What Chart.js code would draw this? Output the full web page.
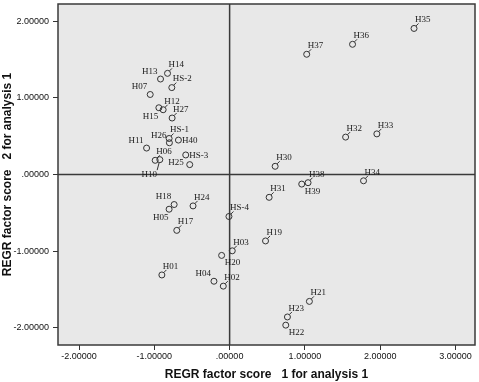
<!DOCTYPE html>
<html>
<head>
<meta charset="utf-8">
<script src="https://cdn.jsdelivr.net/npm/chart.js@4.4.1/dist/chart.umd.min.js"></script>
<style>
  html, body { margin: 0; padding: 0; background: #fff; }
  canvas { display: block; }
</style>
</head>
<body>
<canvas id="chart" width="479" height="382"></canvas>
<script>
// factor scores
const names = ["H01", "H02", "H03", "H04", "H05", "H06", "H07", "H10", "H11", "H12",
  "H13", "H14", "H15", "H17", "H18", "H19", "H20", "H21", "H22", "H23",
  "H24", "H25", "H26", "H27", "H30", "H31", "H32", "H33", "H34", "H35",
  "H36", "H37", "H38", "H39", "H40", "HS-1", "HS-2", "HS-3", "HS-4"];
const score1 = [-0.90, -0.084, 0.035, -0.208, -0.804, -0.989, -1.055, -0.927, -1.103, -0.883,
  -0.918, -0.825, -0.94, -0.702, -0.737, 0.477, -0.106, 1.06, 0.746, 0.768,
  -0.486, -0.53, -0.80, -0.764, 0.605, 0.525, 1.541, 1.956, 1.779, 2.45,
  1.633, 1.024, 1.042, 0.958, -0.68, -0.804, -0.768, -0.583, -0.009];
const score2 = [-1.311, -1.457, -0.996, -1.393, -0.453, 0.185, 1.044, 0.194, 0.345, 0.845,
  1.246, 1.32, 0.871, -0.729, -0.392, -0.867, -1.056, -1.656, -1.966, -1.859,
  -0.41, 0.129, 0.414, 0.737, 0.107, -0.298, 0.488, 0.530, -0.082, 1.906,
  1.699, 1.569, -0.107, -0.125, 0.449, 0.47, 1.134, 0.255, -0.548];
const xTicks = [-2, -1, 0, 1, 2, 3];
const yTicks = [-2, -1, 0, 1, 2];

// where each label sits relative to its marker (default "ne")
const labelSide = {
  H04: "nw", H07: "nw", H11: "nw", H13: "nw", H18: "nw", H26: "nw",
  H05: "sw", H15: "sw",
  H20: "se", H22: "se", H39: "se",
  H40: "e", "HS-3": "e",
  H25: "w",
  H10: "s"
};

const fmt = v => (v === 0 ? ".00000" : v.toFixed(5));

const plotFrame = {
  id: "plotFrame",
  beforeDatasetsDraw(chart) {
    const { ctx, chartArea: a, scales } = chart;
    ctx.save();
    ctx.fillStyle = "#e8e8e8";
    ctx.fillRect(a.left, a.top, a.right - a.left, a.bottom - a.top);
    ctx.strokeStyle = "#3a3a3a";
    ctx.lineWidth = 1.5;
    const x0 = scales.x.getPixelForValue(0);
    const y0 = scales.y.getPixelForValue(0);
    ctx.beginPath();
    ctx.moveTo(x0, a.top); ctx.lineTo(x0, a.bottom);
    ctx.moveTo(a.left, y0); ctx.lineTo(a.right, y0);
    ctx.stroke();
    ctx.strokeRect(a.left, a.top, a.right - a.left, a.bottom - a.top);
    ctx.restore();
  }
};

const pointLabels = {
  id: "pointLabels",
  afterDatasetsDraw(chart) {
    const { ctx } = chart;
    const meta = chart.getDatasetMeta(0);
    ctx.save();
    ctx.font = "9px 'Liberation Serif', serif";
    ctx.fillStyle = "#1a1a1a";
    ctx.strokeStyle = "#333";
    ctx.lineWidth = 1;
    ctx.textBaseline = "middle";
    meta.data.forEach((pt, i) => {
      const cx = pt.x, cy = pt.y;
      const side = labelSide[names[i]] || "ne";
      let tx, ty, align = "left";
      if (side === "ne") {
        tx = cx + 1; ty = cy - 8.5;
        ctx.beginPath();
        ctx.moveTo(cx + 2, cy - 2.5); ctx.lineTo(cx + 4.5, cy - 5);
        ctx.stroke();
      } else if (side === "nw") {
        tx = cx - 3; ty = cy - 7.5; align = "right";
      } else if (side === "sw") {
        tx = cx - 0.5; ty = cy + 8.5; align = "right";
      } else if (side === "se") {
        tx = cx + 3; ty = cy + 7.5;
      } else if (side === "e") {
        tx = cx + 3.5; ty = cy + 0.5;
      } else if (side === "w") {
        tx = cx - 6; ty = cy - 2;
        align = "right";
      } else {
        tx = cx - 10.5; ty = cy + 15; align = "center";
        ctx.beginPath();
        ctx.moveTo(cx - 0.7, cy + 3); ctx.lineTo(cx - 2.7, cy + 10.5);
        ctx.stroke();
      }
      ctx.textAlign = align;
      ctx.fillText(names[i], tx, ty);
    });
    ctx.restore();
  }
};

const tickFont = { family: "'Liberation Sans', Arial, sans-serif", size: 9 };
const titleFont = { family: "'Liberation Sans', Arial, sans-serif", size: 12, weight: "bold" };

new Chart(document.getElementById("chart").getContext("2d"), {
  type: "scatter",
  data: {
    datasets: [{
      label: "scores",
      data: names.map((n, i) => ({ x: score1[i], y: score2[i] })),
      pointRadius: 3,
      pointHoverRadius: 3,
      pointBorderWidth: 1,
      borderColor: "#333",
      backgroundColor: "rgba(0,0,0,0)"
    }]
  },
  options: {
    responsive: false,
    devicePixelRatio: 1,
    animation: false,
    layout: { padding: { top: 2, right: 3, left: 0, bottom: 0 } },
    plugins: {
      legend: { display: false },
      tooltip: { enabled: false }
    },
    scales: {
      x: {
        type: "linear",
        min: -2.28,
        max: 3.26,
        afterBuildTicks: s => { s.ticks = xTicks.map(v => ({ value: v })); },
        afterFit: s => { s.height = 37; s.paddingLeft = 0; s.paddingRight = 0; },
        ticks: { callback: fmt, font: tickFont, color: "#111", padding: 1, maxRotation: 0 },
        grid: { drawOnChartArea: false, drawTicks: true, tickLength: 5, color: "#333" },
        border: { display: false },
        title: { display: true, text: "REGR factor score   1 for analysis 1", font: titleFont, color: "#111", padding: 0 }
      },
      y: {
        type: "linear",
        min: -2.225,
        max: 2.225,
        afterBuildTicks: s => { s.ticks = yTicks.map(v => ({ value: v })); },
        afterFit: s => { s.width = 58; s.paddingTop = 0; s.paddingBottom = 0; },
        ticks: { callback: fmt, font: tickFont, color: "#111", padding: 4 },
        grid: { drawOnChartArea: false, drawTicks: true, tickLength: 5, color: "#333" },
        border: { display: false },
        title: { display: true, text: "REGR factor score   2 for analysis 1", font: titleFont, color: "#111", padding: 0 }
      }
    }
  },
  plugins: [plotFrame, pointLabels]
});
</script>
</body>
</html>
